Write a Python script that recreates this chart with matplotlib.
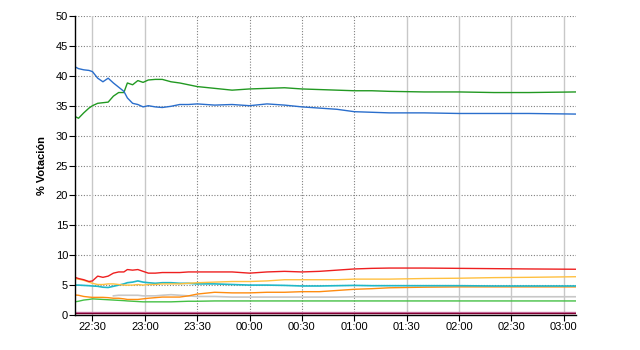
import numpy as np
import matplotlib
matplotlib.use('Agg')
import matplotlib.pyplot as plt

plt.rcParams['font.family'] = ['Liberation Sans', 'DejaVu Sans']

# minutes after 22:20
t = [0, 2, 5, 8, 10, 13, 16, 19, 22, 25, 28, 30, 33, 36, 39, 42, 46, 50, 55, 60,
     65, 70, 80, 90, 100, 110, 120, 130, 140, 150, 160, 170, 180, 200, 220, 240, 260, 287]

blue = [41.5, 41.2, 41.0, 40.9, 40.7, 39.6, 39.0, 39.6, 38.8, 38.1, 37.4, 36.3, 35.4, 35.2, 34.8, 35.0, 34.8, 34.7, 34.9, 35.2,
        35.2, 35.3, 35.1, 35.2, 35.0, 35.3, 35.1, 34.8, 34.6, 34.4, 34.0, 33.9, 33.8, 33.8, 33.7, 33.7, 33.7, 33.6]
green = [33.2, 32.9, 33.8, 34.6, 35.0, 35.4, 35.5, 35.6, 36.6, 37.2, 37.2, 38.8, 38.5, 39.2, 38.9, 39.3, 39.4, 39.4, 39.0, 38.8,
         38.5, 38.2, 37.9, 37.6, 37.8, 37.9, 38.0, 37.8, 37.7, 37.6, 37.5, 37.5, 37.4, 37.3, 37.3, 37.2, 37.2, 37.3]
red = [6.3, 6.1, 5.9, 5.6, 5.7, 6.5, 6.3, 6.5, 7.0, 7.2, 7.2, 7.6, 7.5, 7.6, 7.3, 7.0, 7.0, 7.1, 7.1, 7.1,
       7.2, 7.2, 7.2, 7.2, 7.0, 7.2, 7.3, 7.2, 7.3, 7.5, 7.7, 7.8, 7.85, 7.85, 7.8, 7.75, 7.7, 7.65]
yellow = [6.1, 6.0, 5.8, 5.5, 5.3, 5.1, 5.1, 5.2, 5.2, 5.1, 5.0, 5.0, 5.0, 5.1, 5.0, 5.1, 5.1, 5.2, 5.2, 5.2,
          5.3, 5.4, 5.5, 5.6, 5.6, 5.7, 5.9, 5.9, 5.9, 5.9, 6.0, 6.0, 6.0, 6.1, 6.15, 6.25, 6.3, 6.4]
cyan = [5.0, 5.0, 4.95, 4.9, 4.85, 4.8, 4.65, 4.6, 4.8, 5.0, 5.2, 5.4, 5.5, 5.7, 5.5, 5.4, 5.3, 5.4, 5.4, 5.3,
        5.3, 5.2, 5.2, 5.1, 5.0, 5.0, 4.95, 4.85, 4.85, 4.9, 4.95, 4.9, 4.9, 4.9, 4.9, 4.85, 4.85, 4.85]
orange = [3.35, 3.3, 3.1, 3.0, 2.95, 2.95, 2.95, 2.9, 2.8, 2.8, 2.7, 2.6, 2.6, 2.6, 2.7, 2.8, 2.9, 3.0, 3.0, 3.0,
          3.2, 3.5, 3.8, 3.7, 3.7, 3.8, 3.8, 3.9, 3.9, 4.1, 4.3, 4.4, 4.55, 4.65, 4.7, 4.7, 4.7, 4.7]
gray = [np.nan] * 8 + [3.2, 3.3, 3.3, 3.3, 3.3, 3.3, 3.2, 3.2, 3.2, 3.3, 3.4, 3.3,
                       3.2, 3.1, 3.1, 3.0, 3.0, 3.0, 3.0, 3.0, 3.0, 3.0, 3.05, 3.05, 3.05, 3.05, 3.05, 3.05, 3.05, 3.05]
lgreen = [2.2, 2.3, 2.5, 2.6, 2.7, 2.65, 2.6, 2.55, 2.5, 2.45, 2.4, 2.35, 2.3, 2.25, 2.2, 2.2, 2.2, 2.2, 2.2, 2.25,
          2.3, 2.3, 2.35, 2.35, 2.35, 2.35, 2.35, 2.35, 2.35, 2.35, 2.35, 2.35, 2.35, 2.35, 2.35, 2.35, 2.35, 2.35]
pink = [0.5] * len(t)
maroon = [0.4] * len(t)

tick_pos = [10, 40, 70, 100, 130, 160, 190, 220, 250, 280]
tick_lab = ['22:30', '23:00', '23:30', '00:00', '00:30', '01:00', '01:30', '02:00', '02:30', '03:00']

fig = plt.figure(figsize=(6.4, 3.5), dpi=100)
ax = fig.add_axes([75/640, 35/350, 501/640, 299/350])

# grid
for y in range(5, 51, 5):
    ax.axhline(y, color='#808080', lw=0.8, ls=(0, (1, 1.5)), zorder=0)
for i, x in enumerate(tick_pos):
    if tick_lab[i] in ('22:30', '23:00', '01:30', '02:00', '02:30', '03:00'):
        ax.axvline(x, color='#c8c8c8', lw=1, zorder=0)
    else:
        ax.axvline(x, color='#808080', lw=0.8, ls=(0, (1, 1.5)), zorder=0)

ax.plot(t, gray, color='#c8c8c8', lw=1.2)
ax.plot(t, lgreen, color='#44c044', lw=1)
ax.plot(t, orange, color='#ff8c10', lw=1)
ax.plot(t, cyan, color='#20b8c8', lw=1.2)
ax.plot(t, yellow, color='#ffc040', lw=1)
ax.plot(t, red, color='#ee2020', lw=1)
ax.plot(t, pink, color='#d080b0', lw=1)
ax.plot(t, maroon, color='#800030', lw=1)
ax.plot(t, green, color='#229922', lw=1)
ax.plot(t, blue, color='#2a6ecc', lw=1)

ax.set_xlim(0, 287)
ax.set_ylim(0, 50)
ax.set_yticks(range(0, 51, 5))
ax.set_xticks(tick_pos)
ax.set_xticklabels(tick_lab)
ax.tick_params(labelsize=8, length=4, width=0.8, pad=1, colors='black')
ax.spines['top'].set_visible(False)
ax.spines['right'].set_visible(False)
ax.spines['left'].set_linewidth(1)
ax.spines['bottom'].set_linewidth(1)
ax.set_ylabel('% Votación', fontsize=8, fontweight='bold', labelpad=6)

fig.savefig('out.png', dpi=100)
